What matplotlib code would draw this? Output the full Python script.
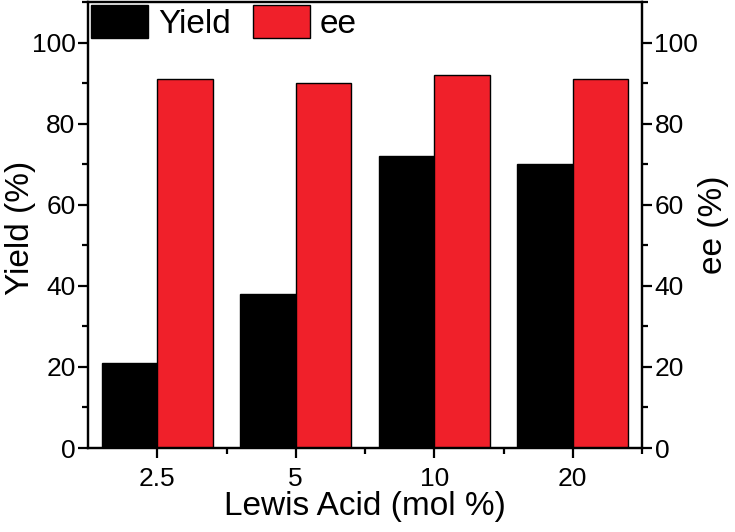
import matplotlib
matplotlib.use("Agg")
import matplotlib.pyplot as plt
import numpy as np
from matplotlib.ticker import MultipleLocator

categories = ["2.5", "5", "10", "20"]
yield_vals = [21, 38, 72, 70]
ee_vals = [91, 90, 92, 91]

plt.rcParams['font.family'] = ['Liberation Sans', 'DejaVu Sans']

fig = plt.figure(figsize=(7.35, 5.32), dpi=100)
ax = fig.add_axes([88/735, 1 - 448/532, (642-88)/735, (448-2)/532])
ax2 = ax.twinx()

x = np.arange(len(categories))
w = 0.4
ax.bar(x - w/2, yield_vals, width=w, color='black', edgecolor='black', linewidth=1, label='Yield')
ax.bar(x + w/2, ee_vals, width=w, color='#f0202a', edgecolor='black', linewidth=1, label='ee')

ax.set_xlim(-0.5, 3.5)
ax.set_ylim(0, 110)
ax2.set_ylim(0, 110)
ax.set_xticks(x)
ax.set_xticks(x + 0.5, minor=True)
ax.set_xticklabels(categories)
ax.set_yticks([0, 20, 40, 60, 80, 100])
ax2.set_yticks([0, 20, 40, 60, 80, 100])
ax.yaxis.set_minor_locator(MultipleLocator(10))
ax2.yaxis.set_minor_locator(MultipleLocator(10))

for a in (ax, ax2):
    for s in a.spines.values():
        s.set_linewidth(1.6)

ax.tick_params(axis='both', which='major', direction='out', length=7, width=1.6, labelsize=19)
ax.tick_params(axis='both', which='minor', direction='out', length=4, width=1.6)
ax.tick_params(axis='x', which='major', pad=7)
ax.tick_params(axis='y', which='major', pad=2)
ax2.tick_params(axis='y', which='major', direction='out', length=7, width=1.6, labelsize=19, pad=2)
ax2.tick_params(axis='y', which='minor', direction='out', length=4, width=1.6)

ax.set_xlabel('Lewis Acid (mol %)', fontsize=24, labelpad=0)
ax.set_ylabel('Yield (%)', fontsize=24)
ax.yaxis.set_label_coords((36 - 88) / 554, (448 - 228) / 446)
ax2.set_ylabel('ee (%)', fontsize=24, rotation=90)
ax2.yaxis.set_label_coords((698 - 88) / 554, (448 - 225) / 446)

leg = ax.legend(loc='upper left', bbox_to_anchor=(0.0, 1.0), ncol=2, frameon=False,
                fontsize=24, handlelength=1.71, handleheight=1.15, handletextpad=0.3,
                columnspacing=0.66, borderaxespad=0.1, borderpad=0.0)

fig.savefig('out.png', dpi=100)
